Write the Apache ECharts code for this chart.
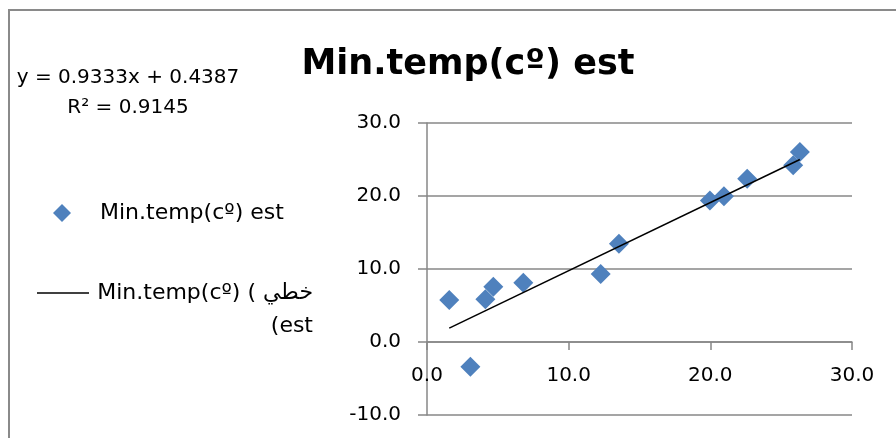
<!DOCTYPE html>
<html>
<head>
<meta charset="utf-8">
<script src="https://cdn.jsdelivr.net/npm/echarts@6/dist/echarts.min.js"></script>
<style>
  html, body { margin: 0; padding: 0; background: #fff; }
  #chart { width: 896px; height: 438px; }
</style>
</head>
<body>
<div id="chart"></div>
<script>
// Observed vs estimated minimum temperature (°C)
const minTempObserved = [1.57, 3.06, 4.12, 4.68, 6.80, 12.26, 13.55, 19.97, 20.96, 22.60, 25.85, 26.32];
const minTempEstimated = [5.75, -3.38, 5.84, 7.57, 8.11, 9.30, 13.47, 19.40, 19.97, 22.38, 24.20, 26.03];

// Linear trendline coefficients and fit quality
const trendSlope = 0.9333;
const trendIntercept = 0.4387;
const trendR2 = 0.9145;

// Axis ranges
const xTicks = [0, 10, 20, 30];
const yTicks = [-10, 0, 10, 20, 30];

const seriesName = 'Min.temp(cº) est';
const trendName = 'خطي (Min.temp(cº) est)';

const points = minTempObserved.map((x, i) => [x, minTempEstimated[i]]);
const xLo = Math.min(...minTempObserved);
const xHi = Math.max(...minTempObserved);
const trendPoints = [xLo, xHi].map(x => [x, trendSlope * x + trendIntercept]);

const FONT = '"DejaVu Sans"';
const GRID_COLOR = '#878787';
const MARKER_COLOR = '#4f81bd';
const TEXT_SIZE = 20;
const LEGEND_SIZE = 22;

const chart = echarts.init(document.getElementById('chart'), null, { renderer: 'canvas' });

chart.setOption({
  animation: false,
  backgroundColor: '#ffffff',
  title: {
    text: seriesName,
    left: 463,
    top: 42,
    textAlign: 'center',
    textStyle: { fontFamily: FONT, fontWeight: 'bold', fontSize: 35, color: '#000' }
  },
  grid: { left: 427, right: 44, top: 123, bottom: 23, containLabel: false, outerBoundsMode: 'none' },
  xAxis: {
    type: 'value',
    min: xTicks[0],
    max: xTicks[xTicks.length - 1],
    interval: 10,
    axisLine: { show: true, onZero: false, lineStyle: { color: GRID_COLOR, width: 1.5 } },
    axisTick: { show: true, inside: false, length: 8, lineStyle: { color: GRID_COLOR, width: 1.5 } },
    splitLine: { show: false },
    axisLabel: {
      margin: 24,
      fontFamily: FONT, fontSize: TEXT_SIZE, color: '#000',
      formatter: v => v.toFixed(1)
    }
  },
  yAxis: {
    type: 'value',
    min: yTicks[0],
    max: yTicks[yTicks.length - 1],
    interval: 10,
    axisLine: { show: true, onZero: false, lineStyle: { color: GRID_COLOR, width: 1.5 } },
    axisTick: { show: true, inside: false, length: 9, lineStyle: { color: GRID_COLOR, width: 1.5 } },
    splitLine: { show: true, lineStyle: { color: GRID_COLOR, width: 1.5 } },
    axisLabel: {
      margin: 26,
      fontFamily: FONT, fontSize: TEXT_SIZE, color: '#000',
      formatter: v => v.toFixed(1)
    }
  },
  series: [
    {
      name: seriesName,
      type: 'scatter',
      symbol: 'diamond',
      symbolSize: 20,
      itemStyle: { color: MARKER_COLOR, opacity: 1 },
      data: points,
      z: 2
    },
    {
      name: trendName,
      type: 'line',
      symbol: 'none',
      lineStyle: { color: '#000', width: 1.5 },
      data: trendPoints,
      z: 3
    }
  ],
  graphic: [
    // chart area border
    {
      type: 'rect',
      shape: { x: 9, y: 10, width: 900, height: 440 },
      style: { fill: 'none', stroke: '#8a8a8a', lineWidth: 2 },
      silent: true
    },
    // trendline equation
    {
      type: 'text',
      x: 128, y: 78,
      style: {
        text: 'y = ' + trendSlope.toFixed(4) + 'x + ' + trendIntercept.toFixed(4),
        font: TEXT_SIZE + 'px ' + FONT, fill: '#000', textAlign: 'center', textVerticalAlign: 'middle'
      }
    },
    {
      type: 'text',
      x: 128, y: 108,
      style: {
        text: 'R² = ' + trendR2.toFixed(4),
        font: TEXT_SIZE + 'px ' + FONT, fill: '#000', textAlign: 'center', textVerticalAlign: 'middle'
      }
    },
    // legend: markers and labels
    {
      type: 'polygon',
      shape: { points: [[62, 204], [71, 213], [62, 222], [53, 213]] },
      style: { fill: MARKER_COLOR }
    },
    {
      type: 'text',
      x: 100, y: 213,
      style: { text: seriesName, font: LEGEND_SIZE + 'px ' + FONT, fill: '#000', textVerticalAlign: 'middle' }
    },
    {
      type: 'line',
      shape: { x1: 37, y1: 293, x2: 89, y2: 293 },
      style: { stroke: '#000', lineWidth: 1.5 }
    },
    {
      type: 'text',
      x: 313, y: 293,
      style: { text: 'Min.temp(cº) ( خطي', font: LEGEND_SIZE + 'px ' + FONT, fill: '#000', textAlign: 'right', textVerticalAlign: 'middle' }
    },
    {
      type: 'text',
      x: 313, y: 326,
      style: { text: '(est', font: LEGEND_SIZE + 'px ' + FONT, fill: '#000', textAlign: 'right', textVerticalAlign: 'middle' }
    }
  ]
});

// Place the horizontal axis line where y = 0, as the vertical axis crosses there
const zeroY = chart.convertToPixel({ yAxisIndex: 0 }, 0);
const bottomY = chart.convertToPixel({ yAxisIndex: 0 }, yTicks[0]);
chart.setOption({ xAxis: { offset: zeroY - bottomY } });
</script>
</body>
</html>
